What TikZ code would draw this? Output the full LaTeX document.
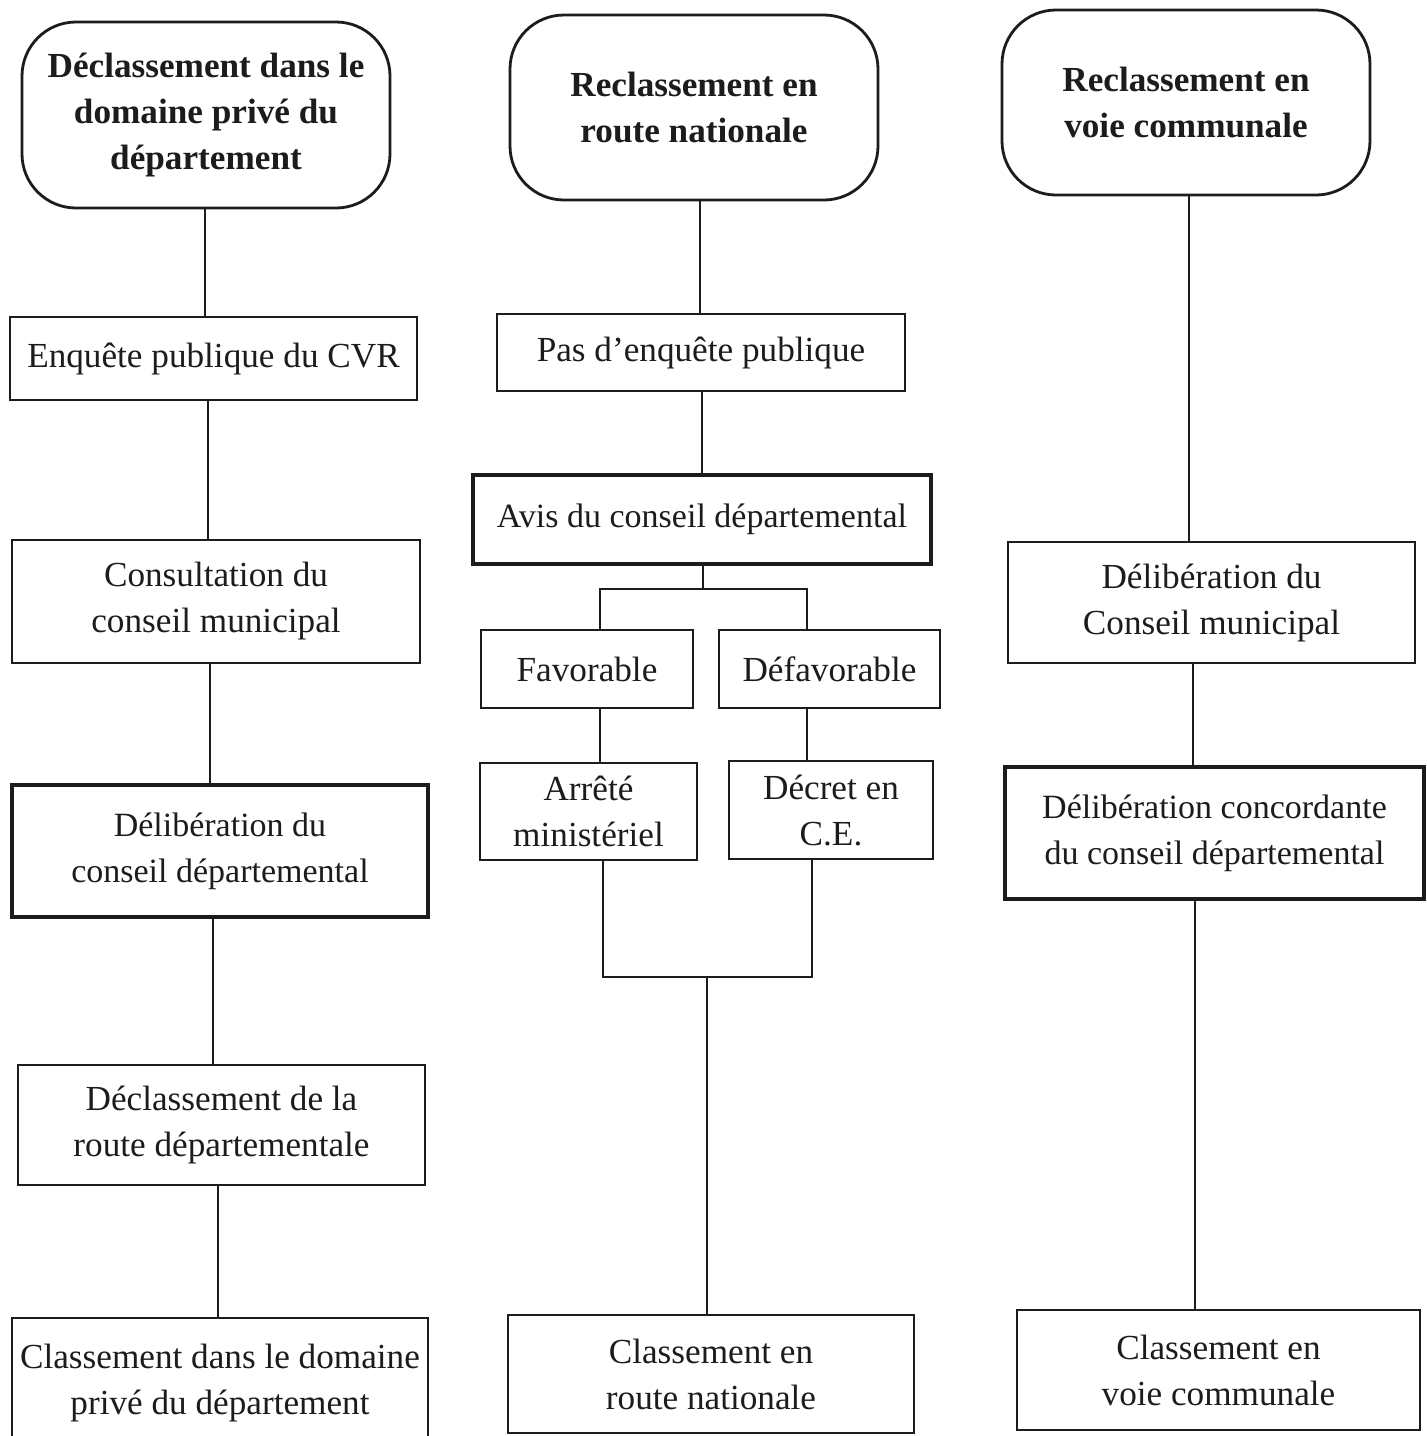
\documentclass[tikz,border=0pt]{standalone}
\usepackage{fontspec}
\setmainfont{Liberation Serif}
\definecolor{ink}{HTML}{1C1C1C}
% \mkbox{name}{style}{x1}{y1}{x2}{y2}{text}  (pixel corners)
\newcommand\mkbox[7]{%
  \node[#2, minimum width={(#5-#3)*0.5pt}, minimum height={(#6-#4)*0.5pt}]
    (#1) at ({(#3+#5)/2},{(#4+#6)/2}) {#7};}
\begin{document}
\begin{tikzpicture}[x=0.5pt,y=-0.5pt,
  base/.style={draw=ink, text=ink, line width=1.4pt, inner sep=0pt, align=center,
    font=\fontsize{17.6}{23}\selectfont},
  rbox/.style={base, rounded corners=27pt, font=\fontsize{17.6}{23}\selectfont\bfseries},
  pbox/.style={base},
  tbox/.style={base, line width=2.2pt, font=\fontsize{17}{23}\selectfont},
  link/.style={draw=ink, line width=1.3pt}]
\useasboundingbox[fill=white] (0,0) rectangle (1426,1436);

% left column
\mkbox{L0}{rbox}{22}{22}{390}{208}{Déclassement dans le\\domaine privé du\\département}
\mkbox{L1}{pbox}{10}{317}{417}{400}{Enquête publique du CVR}
\mkbox{L2}{pbox}{12}{540}{420}{663}{Consultation du\\conseil municipal}
\mkbox{L3}{tbox}{12}{785}{428}{917}{Délibération du\\conseil départemental}
\mkbox{L4}{pbox}{18}{1065}{425}{1185}{Déclassement de la\\route départementale}
\mkbox{L5}{pbox}{12}{1318}{428}{1448}{Classement dans le domaine\\privé du département}

% middle column
\mkbox{M0}{rbox}{510}{15}{878}{200}{Reclassement en\\route nationale}
\mkbox{M1}{pbox}{497}{314}{905}{391}{Pas d’enquête publique}
\mkbox{M2}{tbox}{473}{475}{931}{564}{Avis du conseil départemental}
\mkbox{Fav}{pbox}{481}{630}{693}{708}{Favorable}
\mkbox{Def}{pbox}{719}{630}{940}{708}{Défavorable}
\mkbox{Arr}{pbox}{480}{763}{697}{860}{Arrêté\\ministériel}
\mkbox{Dec}{pbox}{729}{761}{933}{859}{Décret en\\C.E.}
\mkbox{M3}{pbox}{508}{1315}{914}{1433}{Classement en\\route nationale}

% right column
\mkbox{R0}{rbox}{1002}{10}{1370}{195}{Reclassement en\\voie communale}
\mkbox{R1}{pbox}{1008}{542}{1415}{663}{Délibération du\\Conseil municipal}
\mkbox{R2}{tbox}{1005}{767}{1424}{899}{Délibération concordante\\du conseil départemental}
\mkbox{R3}{pbox}{1017}{1310}{1420}{1430}{Classement en\\voie communale}

% column x positions
\coordinate (xa) at (205,0);
\coordinate (xb) at (208,0);
\coordinate (xc) at (210,0);
\coordinate (xd) at (213,0);
\coordinate (xe) at (218,0);
\coordinate (xf) at (700,0);
\coordinate (xg) at (702,0);
\coordinate (xh) at (1189,0);
\coordinate (xi) at (1193,0);
\coordinate (xj) at (1195,0);
\coordinate (jb) at (703,589);
\coordinate (jl) at (600,589);
\coordinate (jr) at (807,589);
\coordinate (kl) at (603,977);
\coordinate (kr) at (812,977);
\coordinate (kc) at (707,977);

% left connectors
\draw[link] (L0.south -| xa) -- (L1.north -| xa);
\draw[link] (L1.south -| xb) -- (L2.north -| xb);
\draw[link] (L2.south -| xc) -- (L3.north -| xc);
\draw[link] (L3.south -| xd) -- (L4.north -| xd);
\draw[link] (L4.south -| xe) -- (L5.north -| xe);

% middle connectors
\draw[link] (M0.south -| xf) -- (M1.north -| xf);
\draw[link] (M1.south -| xg) -- (M2.north -| xg);
\draw[link] (M2.south -| jb) -- (jb);
\draw[link] (Fav.north -| jl) -- (jl) -- (jr) -- (Def.north -| jr);
\draw[link] (Fav.south -| jl) -- (Arr.north -| jl);
\draw[link] (Def.south -| jr) -- (Dec.north -| jr);
\draw[link] (Arr.south -| kl) -- (kl) -- (kr) -- (Dec.south -| kr);
\draw[link] (kc) -- (M3.north -| kc);

% right connectors
\draw[link] (R0.south -| xh) -- (R1.north -| xh);
\draw[link] (R1.south -| xi) -- (R2.north -| xi);
\draw[link] (R2.south -| xj) -- (R3.north -| xj);
\end{tikzpicture}
\end{document}
